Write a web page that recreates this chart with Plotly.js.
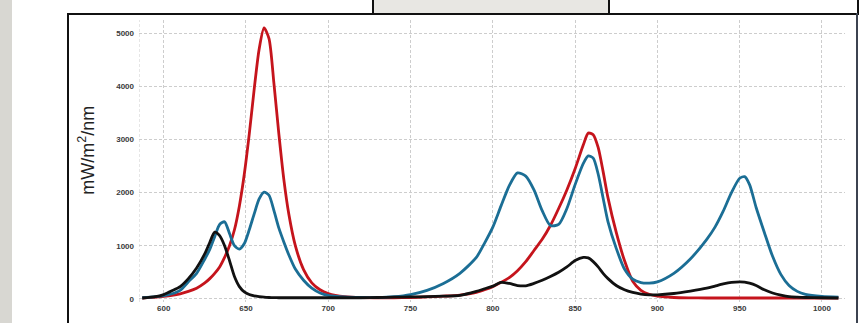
<!DOCTYPE html>
<html>
<head>
<meta charset="utf-8">
<script src="https://cdn.plot.ly/plotly-3.0.1.min.js"></script>
<style>
  html, body { margin: 0; padding: 0; background: #fff; }
  #wrap { position: relative; width: 864px; height: 323px; overflow: hidden; background: #fff; }
  #chart { position: absolute; left: 0; top: 0; width: 864px; height: 323px; }
  .deco { position: absolute; box-sizing: border-box; }
</style>
</head>
<body>
<div id="wrap">
  <div id="chart"></div>
  <div class="deco" style="left:0;top:0;width:12px;height:323px;background:#d8d7d2;"></div>
  <div class="deco" style="left:67px;top:13px;width:2px;height:310px;background:#111;"></div>
  <div class="deco" style="left:67px;top:13px;width:307px;height:2px;background:#111;"></div>
  <div class="deco" style="left:372px;top:-2px;width:238px;height:17px;background:#e8e7e3;border:2px solid #111;"></div>
  <div class="deco" style="left:608px;top:-2px;width:251px;height:17px;background:#fff;border:2px solid #111;"></div>
  <div class="deco" style="left:856px;top:13px;width:2px;height:310px;background:#3c4350;"></div>
</div>
<script>
const wavelength = [587, 595, 600, 605, 610, 615, 620, 625, 628, 631, 634, 637, 640, 643, 646, 649, 652, 655, 658, 661, 664, 667, 670, 673, 676, 680, 685, 690, 695, 700, 710, 720, 730, 740, 750, 760, 770, 780, 790, 795, 800, 805, 810, 815, 820, 825, 830, 835, 840, 845, 850, 855, 858, 861, 864, 867, 870, 875, 880, 885, 890, 895, 900, 910, 920, 930, 935, 940, 945, 950, 953, 956, 960, 965, 970, 975, 980, 985, 990, 1000, 1010];

const redSeries = [15, 30, 45, 65, 95, 140, 200, 300, 380, 480, 600, 780, 1000, 1300, 1750, 2350, 3100, 3950, 4700, 5100, 4900, 4050, 3100, 2250, 1600, 1000, 550, 300, 170, 100, 40, 22, 20, 20, 25, 35, 50, 70, 120, 170, 230, 310, 400, 530, 700, 910, 1120, 1380, 1700, 2050, 2450, 2900, 3120, 3090, 2850, 2400, 1900, 1250, 720, 330, 160, 85, 50, 25, 18, 15, 15, 15, 15, 15, 15, 15, 15, 15, 15, 15, 15, 15, 15, 15, 15];

const blueSeries = [20, 40, 60, 95, 160, 320, 480, 750, 930, 1170, 1400, 1450, 1230, 1000, 935, 1040, 1300, 1600, 1880, 2010, 1950, 1660, 1330, 1070, 830, 560, 350, 200, 110, 65, 35, 25, 25, 40, 80, 160, 290, 480, 780, 1050, 1350, 1750, 2130, 2370, 2310, 2050, 1660, 1380, 1400, 1700, 2150, 2550, 2690, 2650, 2350, 1900, 1450, 950, 560, 370, 305, 295, 320, 480, 750, 1120, 1350, 1650, 2000, 2270, 2300, 2150, 1720, 1250, 800, 460, 250, 140, 85, 45, 30];

const blackSeries = [15, 40, 80, 150, 230, 380, 580, 850, 1060, 1255, 1190, 1000, 720, 420, 230, 130, 80, 55, 40, 30, 25, 22, 20, 20, 20, 20, 20, 20, 20, 20, 20, 20, 25, 30, 35, 40, 50, 65, 140, 190, 240, 310, 290, 250, 245, 290, 350, 420, 500, 600, 720, 780, 770, 700, 600, 480, 380, 250, 170, 120, 90, 75, 75, 100, 145, 200, 240, 280, 310, 320, 315, 295, 250, 170, 110, 70, 40, 30, 25, 20, 15];

const yTickVals = [0, 1000, 2000, 3000, 4000, 5000];
const xTickVals = [600, 650, 700, 750, 800, 850, 900, 950, 1000];
const yTitle = 'mW/m<sup>2</sup>/nm';

function trace(y, color) {
  return {
    x: wavelength, y: y, type: 'scatter', mode: 'lines',
    line: { color: color, width: 2.8, shape: 'spline', smoothing: 0.7 },
    hoverinfo: 'skip', showlegend: false
  };
}

const data = [
  trace(redSeries, '#c5141c'),
  trace(blueSeries, '#1b6e95'),
  trace(blackSeries, '#111111')
];

const tickFont = { family: 'Liberation Sans, Arial, sans-serif', size: 8, color: '#3a3a3a', weight: 'bold' };

const layout = {
  width: 864, height: 323,
  margin: { l: 139, r: 19, t: 20, b: 21 },
  paper_bgcolor: 'rgba(0,0,0,0)',
  plot_bgcolor: '#fff',
  showlegend: false,
  xaxis: {
    range: [585, 1014],
    tickvals: xTickVals,
    ticktext: xTickVals.map(String),
    showgrid: true, gridcolor: '#cdcdcd', griddash: '3px,2px', gridwidth: 1,
    zeroline: false, showline: false, ticks: '',
    tickfont: tickFont
  },
  yaxis: {
    range: [-60, 5250],
    tickvals: yTickVals,
    ticktext: yTickVals.map(String),
    showgrid: true, gridcolor: '#cdcdcd', griddash: '3px,2px', gridwidth: 1,
    zeroline: false, showline: false, ticks: '',
    ticklabelstandoff: 4,
    tickfont: tickFont
  },
  annotations: [
    { text: yTitle, xref: 'paper', yref: 'paper', x: -0.0737, y: 0.54,
      xanchor: 'center', yanchor: 'middle', textangle: -90, showarrow: false,
      font: { family: 'Liberation Sans, Arial, sans-serif', size: 18, color: '#222' } }
  ],
  shapes: [
    { type: 'line', xref: 'x', yref: 'paper', x0: 585, x1: 585, y0: 0, y1: 1,
      line: { color: '#cdcdcd', width: 1, dash: '3px,2px' }, layer: 'below' }
  ]
};

Plotly.newPlot('chart', data, layout, { displayModeBar: false, staticPlot: true });
</script>
</body>
</html>
